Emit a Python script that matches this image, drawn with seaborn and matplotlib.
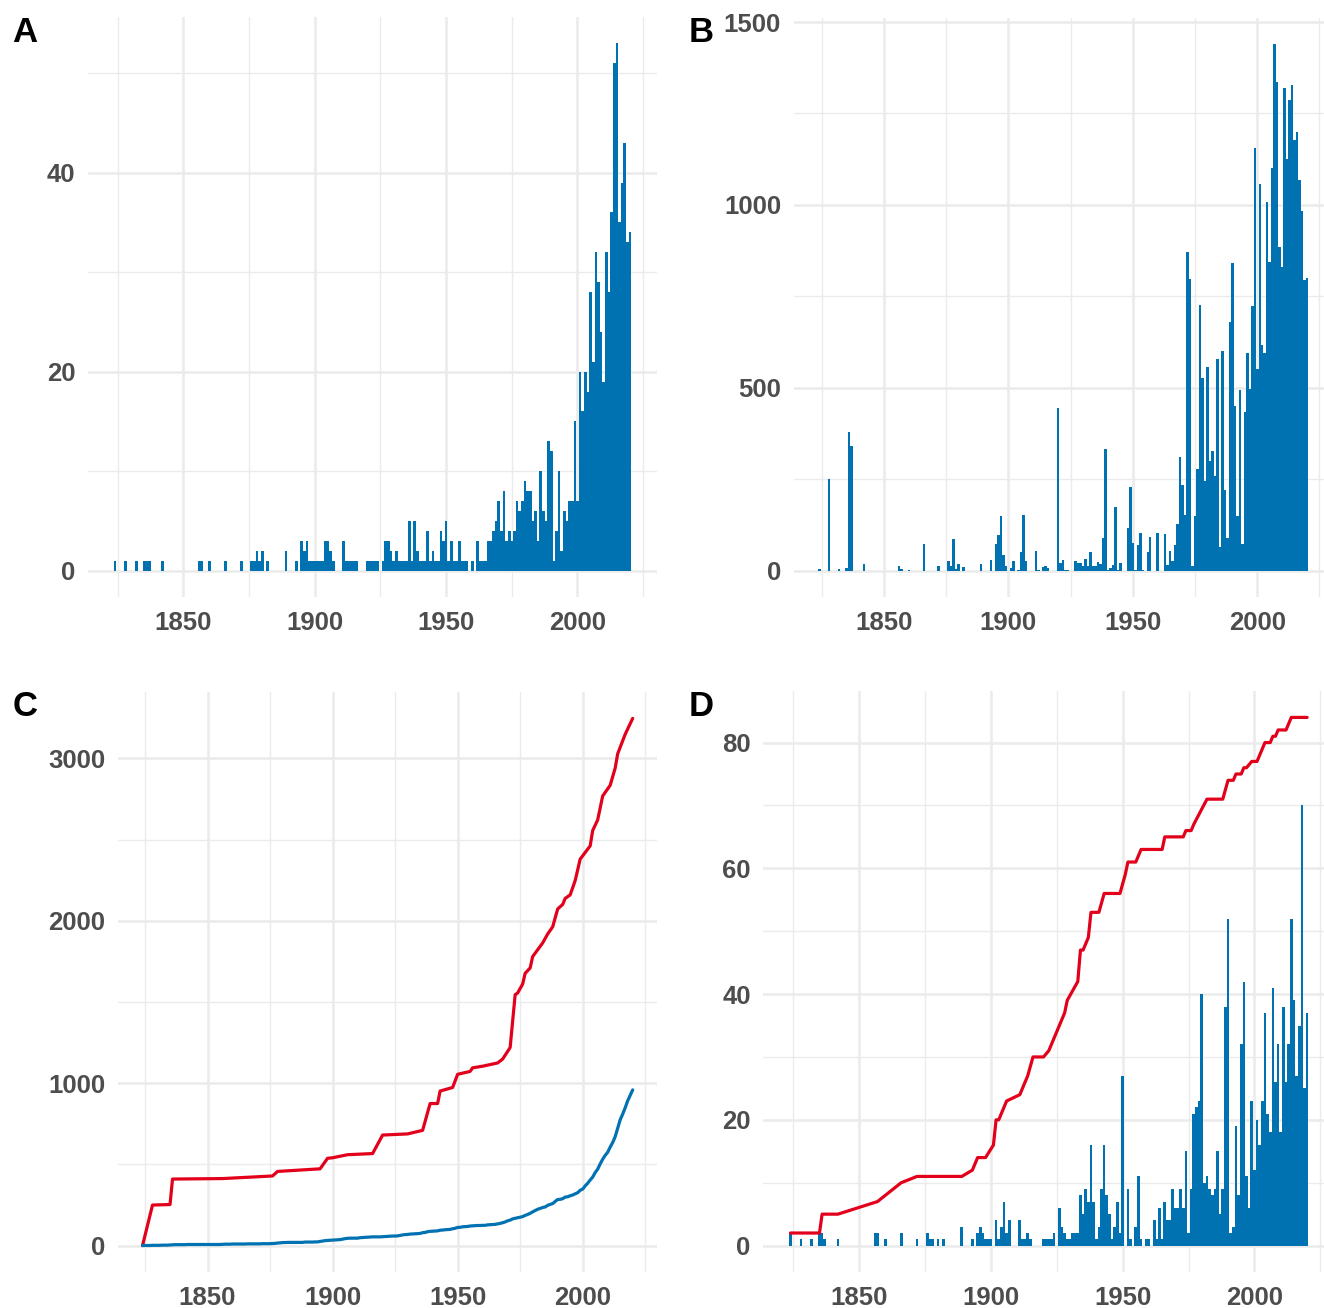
import matplotlib
matplotlib.use("Agg")
import matplotlib.pyplot as plt
from matplotlib.ticker import FixedLocator
import numpy as np
import seaborn as sns

# ---------------- data ----------------
# Panel A: yearly counts
a_years = [1824, 1828, 1832, 1835, 1836, 1837, 1842, 1856, 1857, 1860, 1866, 1872, 1876, 1877, 1878, 1879,
           1880, 1882, 1889, 1893, 1895, 1896, 1897, 1898, 1899, 1900, 1901, 1902, 1903, 1904, 1905, 1906,
           1907, 1911, 1912, 1913, 1914, 1915, 1916, 1920, 1921, 1922, 1923, 1924, 1926, 1927, 1928, 1929,
           1930, 1931, 1932, 1933, 1934, 1935, 1936, 1937, 1938, 1939, 1940, 1941, 1942, 1943, 1944, 1945,
           1946, 1947, 1948, 1949, 1950, 1951, 1952, 1953, 1954, 1955, 1956, 1957, 1958, 1960, 1962, 1963,
           1964, 1965, 1966, 1967, 1968, 1969, 1970, 1971, 1972, 1973, 1974, 1975, 1976, 1977, 1978, 1979,
           1980, 1981, 1982, 1983, 1984, 1985, 1986, 1987, 1988, 1989, 1990, 1991, 1992, 1993, 1994, 1995,
           1996, 1997, 1998, 1999, 2000, 2001, 2002, 2003, 2004, 2005, 2006, 2007, 2008, 2009, 2010, 2011,
           2012, 2013, 2014, 2015, 2016, 2017, 2018, 2019, 2020]
a_counts = [1, 1, 1, 1, 1, 1, 1, 1, 1, 1, 1, 1, 1, 1, 2, 1,
            2, 1, 2, 1, 3, 2, 3, 1, 1, 1, 1, 1, 1, 3, 3, 2,
            1, 3, 1, 1, 1, 1, 1, 1, 1, 1, 1, 1, 1, 3, 3, 2,
            1, 2, 1, 1, 1, 1, 5, 1, 5, 2, 1, 1, 1, 4, 1, 2,
            1, 1, 4, 3, 5, 1, 3, 1, 1, 3, 1, 1, 1, 1, 3, 1,
            1, 1, 3, 3, 4, 5, 7, 4, 8, 3, 4, 3, 4, 7, 6, 7,
            9, 8, 8, 5, 6, 3, 10, 6, 5, 13, 12, 1, 4, 10, 2, 6,
            5, 7, 7, 15, 7, 20, 16, 20, 18, 28, 21, 32, 29, 24, 19, 32,
            28, 36, 51, 53, 35, 39, 43, 33, 34]

# Panel B: yearly totals
b_years = [1824, 1828, 1832, 1835, 1836, 1837, 1842, 1856, 1857, 1860, 1866, 1872, 1876, 1877, 1878, 1879,
           1880, 1882, 1889, 1893, 1895, 1896, 1897, 1898, 1899, 1901, 1902, 1904, 1905, 1906, 1907, 1911,
           1912, 1914, 1915, 1916, 1920, 1921, 1922, 1923, 1924, 1927, 1928, 1929, 1930, 1931, 1932, 1933,
           1934, 1935, 1936, 1937, 1938, 1939, 1940, 1941, 1942, 1943, 1944, 1945, 1948, 1949, 1950, 1951,
           1952, 1953, 1954, 1956, 1957, 1960, 1963, 1964, 1965, 1966, 1967, 1968, 1969, 1970, 1971, 1972,
           1973, 1974, 1975, 1976, 1977, 1978, 1979, 1980, 1981, 1982, 1983, 1984, 1985, 1986, 1987, 1988,
           1989, 1990, 1991, 1992, 1993, 1994, 1995, 1996, 1997, 1998, 1999, 2000, 2001, 2002, 2003, 2004,
           2005, 2006, 2007, 2008, 2009, 2010, 2011, 2012, 2013, 2014, 2015, 2016, 2017, 2018, 2019, 2020]
b_values = [5, 250, 5, 8, 378, 340, 19, 12, 5, 3, 74, 12, 27, 14, 87, 5,
            19, 10, 19, 30, 74, 98, 150, 42, 12, 7, 26, 3, 51, 153, 26, 55,
            3, 10, 14, 7, 446, 21, 30, 3, 2, 26, 20, 21, 12, 32, 14, 50,
            14, 12, 25, 19, 88, 332, 3, 7, 16, 174, 3, 21, 117, 230, 77, 3,
            71, 103, 3, 52, 91, 103, 100, 16, 53, 26, 71, 128, 310, 234, 153, 870,
            798, 12, 149, 278, 726, 527, 244, 557, 301, 326, 260, 579, 64, 601, 221, 89,
            679, 842, 450, 149, 494, 74, 433, 594, 497, 723, 1156, 552, 1056, 616, 596, 1007,
            845, 1101, 1439, 1335, 885, 830, 1319, 1126, 1287, 1327, 1178, 1198, 1069, 984, 795, 800]

# Panel C: cumulative red series (read at yearly break points); blue = cumulative of panel A
c_red_years = [1824, 1828, 1835, 1836, 1856, 1876, 1878, 1895, 1898, 1900, 1906, 1916, 1920, 1930, 1936,
               1939, 1942, 1943, 1948, 1950, 1955, 1956, 1960, 1966, 1968, 1971, 1973, 1974, 1976, 1977,
               1979, 1980, 1984, 1986, 1988, 1990, 1992, 1993, 1995, 1997, 1999, 2003, 2004, 2006, 2008,
               2011, 2013, 2014, 2017, 2020]
c_red_values = [0, 250, 253, 410, 413, 429, 457, 473, 538, 541, 560, 567, 681, 688, 710,
                875, 875, 952, 974, 1055, 1073, 1095, 1105, 1125, 1149, 1220, 1545, 1556, 1611, 1677,
                1710, 1780, 1864, 1919, 1963, 2073, 2101, 2138, 2160, 2248, 2380, 2462, 2556, 2622, 2769,
                2835, 2941, 3029, 3149, 3247]

# Panel D: yearly counts + cumulative red series
d_years = [1824, 1828, 1832, 1835, 1836, 1837, 1842, 1856, 1857, 1860, 1866, 1872, 1876, 1877, 1878, 1880,
           1882, 1889, 1893, 1895, 1896, 1897, 1898, 1899, 1900, 1902, 1903, 1904, 1905, 1906, 1907, 1911,
           1912, 1913, 1914, 1915, 1920, 1921, 1922, 1923, 1924, 1926, 1927, 1928, 1929, 1930, 1931, 1932,
           1933, 1934, 1935, 1936, 1937, 1938, 1939, 1940, 1941, 1942, 1943, 1944, 1945, 1946, 1947, 1948,
           1949, 1950, 1952, 1953, 1955, 1956, 1957, 1959, 1960, 1962, 1963, 1964, 1965, 1966, 1967, 1968,
           1969, 1970, 1971, 1972, 1973, 1974, 1975, 1976, 1977, 1978, 1979, 1980, 1981, 1982, 1983, 1984,
           1985, 1986, 1987, 1988, 1989, 1990, 1991, 1992, 1993, 1994, 1995, 1996, 1997, 1998, 1999, 2000,
           2001, 2002, 2003, 2004, 2005, 2006, 2007, 2008, 2009, 2010, 2011, 2012, 2013, 2014, 2015, 2016,
           2017, 2018, 2019, 2020]
d_counts = [2, 1, 1, 2, 2, 1, 1, 2, 2, 1, 2, 1, 2, 1, 1, 1,
            1, 3, 1, 2, 3, 2, 1, 1, 1, 4, 1, 3, 7, 2, 4, 4,
            1, 1, 2, 1, 1, 1, 1, 1, 2, 6, 3, 2, 1, 1, 2, 2,
            2, 8, 5, 9, 7, 16, 7, 1, 3, 9, 16, 8, 5, 1, 3, 7,
            2, 27, 9, 1, 3, 11, 1, 1, 1, 4, 1, 6, 1, 7, 4, 4,
            9, 6, 6, 9, 6, 15, 2, 9, 21, 22, 23, 40, 10, 11, 9, 8,
            9, 15, 5, 9, 38, 52, 2, 3, 19, 8, 32, 42, 11, 6, 23, 12,
            20, 16, 23, 37, 21, 18, 41, 26, 32, 18, 38, 26, 32, 52, 39, 27,
            35, 70, 25, 37]
d_red_years = [1824, 1835, 1836, 1842, 1857, 1866, 1872, 1889, 1893, 1895, 1898, 1901, 1902, 1903, 1906,
               1911, 1914, 1916, 1920, 1922, 1928, 1929, 1933, 1934, 1935, 1937, 1938, 1941, 1943, 1949,
               1951, 1952, 1955, 1957, 1965, 1966, 1973, 1974, 1976, 1977, 1982, 1988, 1990, 1992, 1993,
               1995, 1996, 1997, 1999, 2001, 2004, 2006, 2007, 2008, 2009, 2012, 2014, 2020]
d_red_values = [2, 2, 5, 5, 7, 10, 11, 11, 12, 14, 14, 16, 20, 20, 23,
                24, 27, 30, 30, 31, 37, 39, 42, 47, 47, 49, 53, 53, 56, 56,
                59, 61, 61, 63, 63, 65, 65, 66, 66, 67, 71, 71, 74, 74, 75,
                75, 76, 76, 77, 77, 80, 80, 81, 81, 82, 82, 84, 84]

BLUE = "#0072B2"
RED = "#E3001B"
GRID = "#EBEBEB"

sns.set_theme(style="white")
plt.rcParams["font.family"] = ["Liberation Sans", "DejaVu Sans"]
plt.rcParams["font.weight"] = "bold"

fig = plt.figure(figsize=(13.24, 13.08), dpi=100)
W, H = 1324.0, 1308.0


def add_ax(x0, y0, x1, y1):
    return fig.add_axes([x0 / W, 1 - y1 / H, (x1 - x0) / W, (y1 - y0) / H])


def style(ax, xlim, ylim, ymaj, ymin):
    ax.set_xlim(xlim)
    ax.set_ylim(ylim)
    ax.xaxis.set_major_locator(FixedLocator([1850, 1900, 1950, 2000]))
    ax.xaxis.set_minor_locator(FixedLocator([1825, 1875, 1925, 1975, 2025]))
    ax.yaxis.set_major_locator(FixedLocator(ymaj))
    ax.yaxis.set_minor_locator(FixedLocator(ymin))
    ax.grid(True, which="major", color=GRID, lw=1.8)
    ax.grid(True, which="minor", color=GRID, lw=1.0)
    ax.set_axisbelow(True)
    for s in ax.spines.values():
        s.set_visible(False)
    ax.tick_params(which="both", length=0)
    ax.tick_params(axis="x", pad=10, labelsize=18.5, labelcolor="#4D4D4D")
    ax.tick_params(axis="y", pad=9, labelsize=18.5, labelcolor="#4D4D4D")
    ax.set_xlabel("")
    ax.set_ylabel("")
    ax.set_facecolor("white")


def pad_lim(lo, hi):
    r = hi - lo
    return (lo - 0.05 * r, hi + 0.05 * r)


bar_xlim = pad_lim(min(a_years) - 0.5, max(a_years) + 0.5)

# ---- Panel A ----
axA = add_ax(88, 17, 657.2, 597)
sns.histplot(x=a_years, weights=a_counts, discrete=True, shrink=1.0, color=BLUE,
             alpha=1, linewidth=0, ax=axA)
style(axA, bar_xlim, pad_lim(0, max(a_counts)), [0, 20, 40], [10, 30, 50])

# ---- Panel B ----
axB = add_ax(793.5, 18, 1332.8, 597)
sns.histplot(x=b_years, weights=b_values, discrete=True, shrink=1.0, color=BLUE,
             alpha=1, linewidth=0, ax=axB)
style(axB, bar_xlim, pad_lim(0, max(b_values)), [0, 500, 1000, 1500], [250, 750, 1250])

# ---- Panel C ----
axC = add_ax(118, 692, 657.2, 1272)
all_years = np.arange(min(a_years), max(a_years) + 1)
a_full = np.zeros(len(all_years))
a_full[np.array(a_years) - all_years[0]] = a_counts
c_blue = np.cumsum(a_full)
sns.lineplot(x=c_red_years, y=c_red_values, color=RED, lw=2.3, ax=axC)
sns.lineplot(x=all_years, y=c_blue, color=BLUE, lw=2.3, ax=axC)
style(axC, pad_lim(min(c_red_years), max(c_red_years)), pad_lim(0, max(c_red_values)),
      [0, 1000, 2000, 3000], [500, 1500, 2500])

# ---- Panel D ----
axD = add_ax(763.2, 691, 1334.4, 1272)
sns.histplot(x=d_years, weights=d_counts, discrete=True, shrink=1.0, color=BLUE,
             alpha=1, linewidth=0, ax=axD)
sns.lineplot(x=d_red_years, y=d_red_values, color=RED, lw=2.3, ax=axD)
style(axD, bar_xlim, pad_lim(0, max(d_red_values)), [0, 20, 40, 60, 80], [10, 30, 50, 70])

# panel letters
for letter, (px, py) in {"A": (25, 32), "B": (701, 32), "C": (25, 706), "D": (701, 706)}.items():
    fig.text(px / W, 1 - py / H, letter, fontsize=25, fontweight="bold", color="black",
             ha="center", va="center")

fig.savefig("out.png", dpi=100, facecolor="white")
